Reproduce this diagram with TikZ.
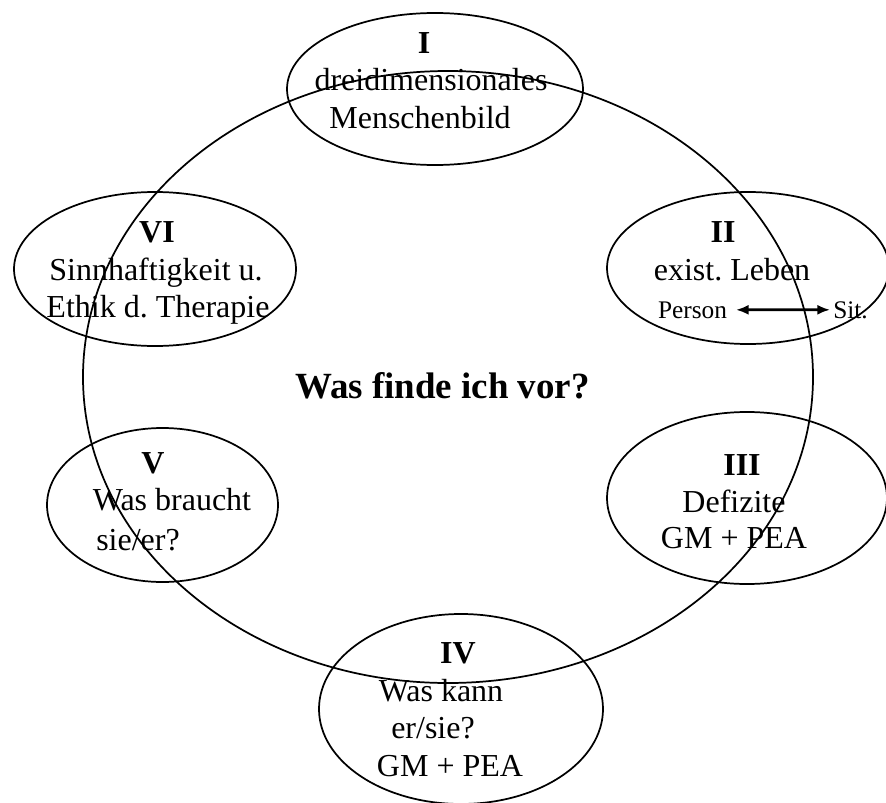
\documentclass[tikz,border=0pt]{standalone}
\usepackage{fontspec}
\setmainfont{Liberation Serif}
\usetikzlibrary{arrows.meta}
\frenchspacing
\begin{document}
\frenchspacing
\begin{tikzpicture}[x=0.75pt,y=-0.75pt,
  ring/.style={line width=1.3pt},
  txt/.style={anchor=base,inner sep=0pt,font=\fontsize{24pt}{28pt}\selectfont},
  num/.style={anchor=base,inner sep=0pt,font=\fontsize{24pt}{28pt}\selectfont\bfseries},
  small/.style={inner sep=0pt,font=\fontsize{19pt}{22pt}\selectfont},
  title/.style={anchor=base,inner sep=0pt,font=\fontsize{27.7pt}{32pt}\selectfont\bfseries},
  dblarrow/.style={line width=2pt,{Latex[length=9.5pt,width=7.5pt]}-{Latex[length=9.5pt,width=7.5pt]}}]
\useasboundingbox (0,0) rectangle (886,803);
\clip (0,0) rectangle (886,803);
% big circle
\draw[ring] (448,377) ellipse [x radius=365, y radius=306];
% satellite ellipses
\draw[ring] (435,89) ellipse [x radius=148, y radius=76];
\draw[ring] (748,268) ellipse [x radius=141, y radius=76];
\draw[ring] (747,498) ellipse [x radius=140, y radius=86];
\draw[ring] (461,709) ellipse [x radius=142, y radius=95];
\draw[ring] (162.5,505) ellipse [x radius=115.5, y radius=77];
\draw[ring] (155,269) ellipse [x radius=141, y radius=77];
% centre
\node[title] (center) at (442.5,398) {Was finde ich vor?};
% I
\node[num] (n1) at (424,53) {I};
\node[txt] (t1a) at (431,90) {dreidimensionales};
\node[txt] (t1b) at (420,128) {Menschenbild};
% II
\node[num] (n2) at (723,242) {II};
\node[txt] (t2a) at (732,280) {exist. Leben};
\node[small,anchor=base] (person) at (692.5,318) {Person};
\node[small,anchor=base west] (sit) at (833,318) {Sit.};
\draw[dblarrow] ([xshift=6.5pt]person.east) -- ([xshift=-2.2pt]sit.west);
% III
\node[num] (n3) at (742,475) {III};
\node[txt] (t3a) at (734,512) {Defizite};
\node[txt] (t3b) at (734,548) {GM + PEA};
% IV
\node[num] (n4) at (458,663) {IV};
\node[txt] (t4a) at (441,701) {Was kann};
\node[txt] (t4b) at (433,738) {er/sie?};
\node[txt] (t4c) at (450,776) {GM + PEA};
% V
\node[num] (n5) at (153,473) {V};
\node[txt] (t5a) at (172,510) {Was braucht};
\node[txt] (t5b) at (138,550) {sie/er?};
% VI
\node[num] (n6) at (157,242) {VI};
\node[txt] (t6a) at (156,280) {Sinnhaftigkeit u.};
\node[txt] (t6b) at (158,317) {Ethik d. Therapie};
\end{tikzpicture}
\end{document}
